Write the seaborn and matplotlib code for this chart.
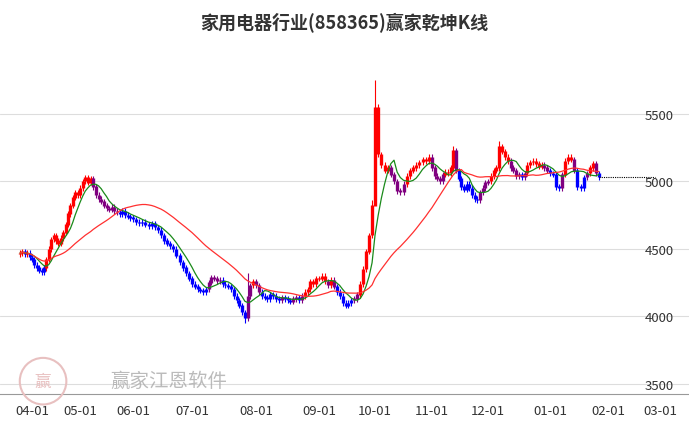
import numpy as np
import pandas as pd
import matplotlib
matplotlib.use('Agg')
import matplotlib.pyplot as plt
import matplotlib.patches as mpatches
import seaborn as sns

# daily closes (month by month)
close_mar = [4470, 4480, 4460, 4470, 4440]
close_apr = [4420, 4380, 4360, 4340, 4330, 4360, 4420, 4500, 4570, 4600,
             4560, 4540, 4580, 4620, 4680, 4760, 4820, 4880, 4920, 4900]
close_may = [4950, 5000, 5030, 4990, 5020, 4960, 4900, 4870, 4850, 4820,
             4800, 4790, 4810, 4780, 4770, 4760, 4780, 4750, 4740, 4730]
close_jun = [4720, 4700, 4690, 4700, 4680, 4670, 4690, 4660, 4640, 4600,
             4560, 4540, 4520, 4500, 4450, 4400, 4360, 4320, 4280]
close_jul = [4240, 4220, 4200, 4190, 4180, 4200, 4250, 4290, 4280, 4260,
             4270, 4240, 4230, 4220, 4200, 4150, 4120, 4080, 4030, 3990,
             4150, 4230, 4260]
close_aug = [4230, 4180, 4150, 4140, 4130, 4160, 4150, 4130, 4120, 4140,
             4130, 4120, 4110, 4130, 4140, 4120, 4150, 4180, 4200, 4260,
             4240, 4280]
close_sep = [4280, 4300, 4260, 4230, 4270, 4220, 4180, 4150, 4100, 4080,
             4100, 4120, 4130, 4160, 4240, 4350, 4480, 4600, 4820]
close_oct = [5550, 5200, 5120, 5080, 5100, 5050, 5000, 4930, 4920, 4980,
             5040, 5080, 5100, 5120, 5140, 5160, 5150, 5180]
close_nov = [5100, 5040, 5020, 5000, 5050, 5070, 5060, 5100, 5230, 5080,
             5020, 4960, 4940, 4980, 4950, 4900, 4870, 4860, 4920, 4950,
             4990]
close_dec = [5000, 5040, 5080, 5100, 5260, 5220, 5180, 5150, 5100, 5080,
             5040, 5050, 5030, 5060, 5120, 5140, 5150, 5130, 5110, 5120,
             5100, 5080]
close_jan = [5060, 5050, 4960, 4950, 5050, 5150, 5180, 5160, 5080, 4960,
             4950, 5030, 5060, 5100, 5130, 5060, 5030]

# a few visibly long wicks
big_highs = {'2024-10-08': 5750, '2024-09-30': 4860, '2024-11-13': 5260,
             '2024-12-06': 5300, '2024-07-29': 4320}
big_lows = {'2024-07-26': 3950, '2024-10-08': 5300}

holidays = ['2024-04-04', '2024-04-05', '2024-05-01', '2024-05-02', '2024-05-03',
            '2024-06-10', '2024-09-16', '2024-09-17', '2024-10-01', '2024-10-02',
            '2024-10-03', '2024-10-04', '2024-10-07', '2025-01-01']
tick_labels = ['04-01', '05-01', '06-01', '07-01', '08-01', '09-01', '10-01',
               '11-01', '12-01', '01-01', '02-01', '03-01']
# axis calibration: where each month starts on the (trading-day) axis
tick_pos = [32, 80, 133, 192, 256, 319, 375, 432, 488, 550, 608, 660]

#%%
dates = pd.bdate_range('2024-03-25', '2025-01-24')
dates = dates[~dates.isin(pd.to_datetime(holidays))]
closes = (close_mar + close_apr + close_may + close_jun + close_jul + close_aug
          + close_sep + close_oct + close_nov + close_dec + close_jan)
n = min(len(dates), len(closes))
df = pd.DataFrame({'date': dates[:n], 'close': closes[:n]})
df['idx'] = np.arange(n)

# trading index of the first session of each month Apr..Jan
first_idx = df.groupby(df['date'].dt.to_period('M'))['idx'].min().values[1:]
known_pos = tick_pos[:len(first_idx)]
slope_start = (known_pos[1] - known_pos[0]) / (first_idx[1] - first_idx[0])
slope_end = (tick_pos[10] - tick_pos[9]) / 19
def to_x(i):
    if i < first_idx[0]:
        return known_pos[0] + (i - first_idx[0]) * slope_start
    if i > first_idx[-1]:
        return known_pos[-1] + (i - first_idx[-1]) * slope_end
    return np.interp(i, first_idx, known_pos)
df['x'] = df['idx'].apply(to_x)

df['open'] = df['close'].shift(1).fillna(df['close'][0] - 10)
df['high'] = df[['open', 'close']].max(axis=1) + 20
df['low'] = df[['open', 'close']].min(axis=1) - 20
for d, v in big_highs.items():
    df.loc[df['date'] == d, 'high'] = v
for d, v in big_lows.items():
    df.loc[df['date'] == d, 'low'] = v
df['ma_s'] = df['close'].rolling(7, min_periods=1).mean()
df['ma_l'] = df['close'].rolling(30, min_periods=1).mean()

def pick(r):
    if r['close'] >= r['ma_s'] and r['close'] >= r['ma_l']:
        return '#ff0000'
    if r['close'] < r['ma_s'] and r['close'] < r['ma_l']:
        return '#0000ff'
    return '#800080'
df['col'] = df.apply(pick, axis=1)

sns.set_style('white')
plt.rcParams['font.family'] = ['Noto Sans CJK SC', 'DejaVu Sans']

fig = plt.figure(figsize=(6.89, 4.27), dpi=100)
ax = fig.add_axes([0, 0.075, 1, 0.773])

ax.vlines(df['x'], df['low'], df['high'], colors=df['col'], linewidth=0.8)
ax.vlines(df['x'], df[['open', 'close']].min(axis=1),
          df[['open', 'close']].max(axis=1) + 3, colors=df['col'], linewidth=2.4)
sns.lineplot(data=df, x='x', y='ma_s', color='#1a8a1a', linewidth=0.9, ax=ax)
sns.lineplot(data=df, x='x', y='ma_l', color='#ff3030', linewidth=0.9, ax=ax)

last = df.iloc[-1]
ax.hlines(last['close'], last['x'], 655, colors='black',
          linestyles=(0, (1, 1)), linewidth=0.8)

ax.set_xlim(0, 689)
ax.set_ylim(3426, 5870)
ax.set_yticks([3500, 4000, 4500, 5000, 5500])
ax.yaxis.tick_right()
ax.tick_params(axis='y', direction='in', pad=-32, labelsize=9.5, colors='#333333', length=0)
ax.grid(axis='y', color='#dddddd', linewidth=0.8)
ax.set_xticks(tick_pos)
ax.set_xticklabels(tick_labels)
ax.tick_params(axis='x', labelsize=9.5, colors='#333333', length=4, width=0.6)
for s in ['top', 'left', 'right']:
    ax.spines[s].set_visible(False)
ax.spines['bottom'].set_color('#999999')
ax.set_xlabel('')
ax.set_ylabel('')

fig.text(0.5, 0.945, '家用电器行业(858365)赢家乾坤K线', ha='center', va='center',
         fontsize=13, color='#333333', fontweight='bold')
fig.text(0.16, 0.095, '赢家江恩软件', fontsize=14, color='#aaaaaa', alpha=0.8)
logo = fig.add_axes([0.025, 0.045, 0.075, 0.12])
logo.set_aspect('equal')
logo.axis('off')
logo.add_patch(mpatches.Circle((0, 0), 1, fill=False, edgecolor='#e8c0c0', linewidth=1.5))
logo.text(0, 0, '赢', ha='center', va='center', fontsize=12, color='#e8c0c0')
logo.set_xlim(-1.1, 1.1)
logo.set_ylim(-1.1, 1.1)

plt.savefig('out.png', dpi=100)
